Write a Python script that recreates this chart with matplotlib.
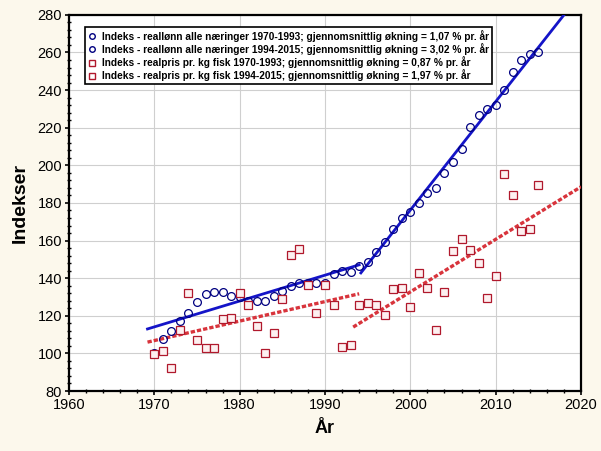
import matplotlib
matplotlib.use('Agg')
from matplotlib import pyplot as plt
from matplotlib.lines import Line2D
from matplotlib.ticker import MultipleLocator

plt.rcParams['font.family'] = ['Liberation Sans', 'DejaVu Sans']

years = list(range(1970, 2016))

# Index real wages, all industries (1970 = 100)
wage = [100, 107.5, 112, 117, 121.5, 127.5, 131.5, 132.5, 132.5, 130.5,
        130, 128, 128, 128, 130.5, 133, 136, 137.5, 137.5, 137.5,
        137.5, 142, 144, 143.5, 146.5, 148.5, 154, 159, 166, 172,
        175, 180, 185.5, 188, 196, 202, 208.5, 220.5, 226.5, 230,
        232, 240, 249.5, 256, 259, 260.5]

# Index real price per kg fish (1970 = 100)
fish = [99.7, 101.3, 92.2, 112.5, 132.2, 107.2, 103, 103, 118.3, 118.9,
        132.2, 125.8, 114.6, 100, 110.9, 129, 152.4, 155.6, 136.5, 121.5,
        136.5, 125.8, 103.4, 104.5, 125.8, 126.9, 125.8, 120.5, 134.3, 134.9,
        124.7, 142.8, 134.9, 112.5, 132.7, 154.6, 161, 155.1, 148.2, 129.5,
        141.3, 195.6, 184.4, 165.2, 166.3, 189.7]

# trend line end points
wage_trend1_x = [1969.2, 1994.0]
wage_trend1_y = [113.0, 147.1]
wage_trend2_x = [1994.2, 2018.0]
wage_trend2_y = [142.8, 280.0]
fish_trend1_x = [1969.2, 1994.0]
fish_trend1_y = [106.0, 131.7]
fish_trend2_x = [1993.3, 2020.0]
fish_trend2_y = [114.0, 188.6]

labels = ['Indeks - reallønn alle næringer 1970-1993; gjennomsnittlig økning = 1,07 % pr. år',
          'Indeks - reallønn alle næringer 1994-2015; gjennomsnittlig økning = 3,02 % pr. år',
          'Indeks - realpris pr. kg fisk 1970-1993; gjennomsnittlig økning = 0,87 % pr. år',
          'Indeks - realpris pr. kg fisk 1994-2015; gjennomsnittlig økning = 1,97 % pr. år']

bg = '#fcf8ec'
blue_pt = '#000080'
red_pt = '#b0182c'
blue_ln = '#1414c8'
red_ln = '#d8343c'

fig = plt.figure(figsize=(6.01, 4.51), dpi=100, facecolor=bg)
ax = fig.add_axes([0.1148, 0.133, 0.852, 0.834])
ax.set_facecolor('white')

ax.plot(wage_trend1_x, wage_trend1_y, '-', color=blue_ln, lw=2, zorder=3)
ax.plot(wage_trend2_x, wage_trend2_y, '-', color=blue_ln, lw=2, zorder=3)
ax.plot(fish_trend1_x, fish_trend1_y, '--', color=red_ln, lw=2.4,
        dashes=(1.3, 0.6), zorder=3)
ax.plot(fish_trend2_x, fish_trend2_y, '--', color=red_ln, lw=2.4,
        dashes=(1.3, 0.6), zorder=3)

ax.plot(years, wage, 'o', ms=5.6, mfc='none', mec=blue_pt, mew=0.9, zorder=4)
ax.plot(years, fish, 's', ms=6, mfc='#fdf0f0', mec=red_pt, mew=0.9, zorder=4)

ax.set_xlim(1960, 2020)
ax.set_ylim(80, 280)
ax.xaxis.set_major_locator(MultipleLocator(10))
ax.xaxis.set_minor_locator(MultipleLocator(2))
ax.yaxis.set_major_locator(MultipleLocator(20))
ax.yaxis.set_minor_locator(MultipleLocator(4))
ax.grid(True, which='major', color='#cfcfcf', lw=0.8)
ax.set_axisbelow(True)
ax.tick_params(which='major', direction='out', length=3, width=1.2,
               labelsize=10.5, colors='black', pad=2)
ax.tick_params(which='minor', direction='inout', length=3, width=1)
for s in ax.spines.values():
    s.set_linewidth(1.6)

ax.set_xlabel('År', fontsize=13, fontweight='bold', labelpad=6)
ax.set_ylabel('Indekser', fontsize=14, fontweight='bold', labelpad=6)

handles = [Line2D([], [], ls='none', marker='o', ms=4, mfc='none', mec=blue_pt, mew=1),
           Line2D([], [], ls='none', marker='o', ms=4, mfc='none', mec=blue_pt, mew=1),
           Line2D([], [], ls='none', marker='s', ms=4, mfc='none', mec=red_pt, mew=1),
           Line2D([], [], ls='none', marker='s', ms=4, mfc='none', mec=red_pt, mew=1)]
leg = ax.legend(handles, labels, loc='upper left', bbox_to_anchor=(0.031, 0.968),
                prop={'weight': 'bold', 'size': 7.3},
                frameon=True, fancybox=False, edgecolor='black', framealpha=1,
                handlelength=0.8, handletextpad=0.6, labelspacing=0.12,
                borderpad=0.3, borderaxespad=0)
leg.get_frame().set_linewidth(1.2)

fig.savefig('out.png', dpi=100, facecolor=bg)
